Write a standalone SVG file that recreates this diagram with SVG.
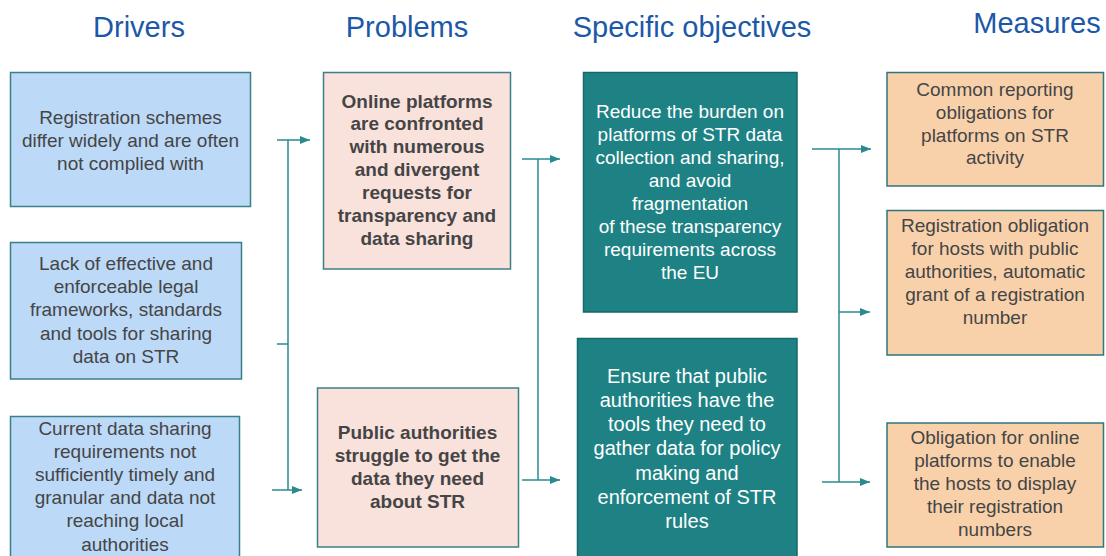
<svg xmlns="http://www.w3.org/2000/svg" width="1106" height="556" viewBox="0 0 1106 556">
<style>
.h{font-family:"Liberation Sans",Arial,sans-serif;font-size:29px;fill:#1c58a8;text-anchor:middle}
.t{font-family:"Liberation Sans",Arial,sans-serif;font-size:19px;fill:#454545;text-anchor:middle}
.b{font-weight:bold}
.w{fill:#ffffff}
.drv{fill:#bcd9f8;stroke:#3a8088;stroke-width:1.5}
.prb{fill:#f9e1dc;stroke:#3a8088;stroke-width:1.5}
.obj{fill:#1e8285;stroke:#16676a;stroke-width:1.5}
.msr{fill:#f8d1ab;stroke:#2f767c;stroke-width:1.5}
.c{stroke:#2a8a8e;stroke-width:1.5;fill:none}
</style>
<defs>
<marker id="ah" viewBox="0 0 10 10" refX="10" refY="5" markerWidth="7" markerHeight="7" markerUnits="userSpaceOnUse" orient="auto">
<path d="M0,0 L10,5 L0,10 z" fill="#2a8a8e"/>
</marker>
<marker id="a" viewBox="0 0 10 8" refX="10" refY="4" markerWidth="10" markerHeight="8" markerUnits="userSpaceOnUse" orient="auto">
<path d="M0,0 L10,4 L0,8 z" fill="#2a8a8e"/>
</marker>
</defs>
<rect width="1106" height="556" fill="#ffffff"/>

<g id="headings">
<text class="h" x="139" y="37">Drivers</text>
<text class="h" x="407" y="37">Problems</text>
<text class="h" x="692" y="37">Specific objectives</text>
<text class="h" x="1037" y="33">Measures</text>
</g>

<g id="connectors">
<path class="c" d="M288,140 V490 M277,344 H288"/>
<path class="c" d="M277,140 H310" marker-end="url(#a)"/>
<path class="c" d="M272,490 H302" marker-end="url(#a)"/>
<path class="c" d="M538,159 V480"/>
<path class="c" d="M522,159 H560" marker-end="url(#a)"/>
<path class="c" d="M522,480 H560" marker-end="url(#a)"/>
<path class="c" d="M839,149 V482"/>
<path class="c" d="M812,149 H871" marker-end="url(#a)"/>
<path class="c" d="M839,312 H870" marker-end="url(#a)"/>
<path class="c" d="M822,482 H870" marker-end="url(#a)"/>
</g>

<g id="driver1">
<rect class="drv" x="10.5" y="72.5" width="240" height="134"/>
<text class="t" x="130.5" y="123.5">Registration schemes</text>
<text class="t" x="130.5" y="146.5">differ widely and are often</text>
<text class="t" x="130.5" y="169.5">not complied with</text>
</g>
<g id="driver2">
<rect class="drv" x="10.5" y="242.5" width="231" height="136.5"/>
<text class="t" x="126" y="270">Lack of effective and</text>
<text class="t" x="126" y="293.2">enforceable legal</text>
<text class="t" x="126" y="316.4">frameworks, standards</text>
<text class="t" x="126" y="339.6">and tools for sharing</text>
<text class="t" x="126" y="362.8">data on STR</text>
</g>
<g id="driver3">
<rect class="drv" x="10.5" y="416.5" width="229" height="142"/>
<text class="t" x="125" y="435">Current data sharing</text>
<text class="t" x="125" y="458.1">requirements not</text>
<text class="t" x="125" y="481.2">sufficiently timely and</text>
<text class="t" x="125" y="504.3">granular and data not</text>
<text class="t" x="125" y="527.4">reaching local</text>
<text class="t" x="125" y="550.5">authorities</text>
</g>

<g id="problem1">
<rect class="prb" x="323.5" y="72.5" width="187" height="196.5"/>
<text class="t b" x="417" y="107.5">Online platforms</text>
<text class="t b" x="417" y="130.4">are confronted</text>
<text class="t b" x="417" y="153.3">with numerous</text>
<text class="t b" x="417" y="176.2">and divergent</text>
<text class="t b" x="417" y="199.1">requests for</text>
<text class="t b" x="417" y="222">transparency and</text>
<text class="t b" x="417" y="244.9">data sharing</text>
</g>
<g id="problem2">
<rect class="prb" x="317.5" y="388" width="201" height="159"/>
<text class="t b" x="417.5" y="439">Public authorities</text>
<text class="t b" x="417.5" y="462">struggle to get the</text>
<text class="t b" x="417.5" y="485">data they need</text>
<text class="t b" x="417.5" y="508">about STR</text>
</g>

<g id="objective1">
<rect class="obj" x="583.5" y="72.5" width="213.5" height="239.5"/>
<text class="t w" x="690" y="117.5">Reduce the burden on</text>
<text class="t w" x="690" y="140.5">platforms of STR data</text>
<text class="t w" x="690" y="163.5">collection and sharing,</text>
<text class="t w" x="690" y="186.5">and avoid</text>
<text class="t w" x="690" y="209.5">fragmentation</text>
<text class="t w" x="690" y="232.5">of these transparency</text>
<text class="t w" x="690" y="255.5">requirements across</text>
<text class="t w" x="690" y="278.5">the EU</text>
</g>
<g id="objective2">
<rect class="obj" x="577.5" y="338.5" width="219.5" height="220"/>
<text class="t w" x="687" y="382.5" style="font-size:20px">Ensure that public</text>
<text class="t w" x="687" y="406.8" style="font-size:20px">authorities have the</text>
<text class="t w" x="687" y="431.1" style="font-size:20px">tools they need to</text>
<text class="t w" x="687" y="455.4" style="font-size:20px">gather data for policy</text>
<text class="t w" x="687" y="479.7" style="font-size:20px">making and</text>
<text class="t w" x="687" y="504" style="font-size:20px">enforcement of STR</text>
<text class="t w" x="687" y="528.3" style="font-size:20px">rules</text>
</g>

<g id="measure1">
<rect class="msr" x="887" y="72.5" width="216.5" height="113.5"/>
<text class="t" x="995" y="96">Common reporting</text>
<text class="t" x="995" y="118.8">obligations for</text>
<text class="t" x="995" y="141.6">platforms on STR</text>
<text class="t" x="995" y="164.4">activity</text>
</g>
<g id="measure2">
<rect class="msr" x="887" y="210.5" width="216.5" height="144.5"/>
<text class="t" x="995" y="232.3">Registration obligation</text>
<text class="t" x="995" y="255.3">for hosts with public</text>
<text class="t" x="995" y="278.3">authorities, automatic</text>
<text class="t" x="995" y="301.3">grant of a registration</text>
<text class="t" x="995" y="324.3">number</text>
</g>
<g id="measure3">
<rect class="msr" x="887" y="423" width="216.5" height="124"/>
<text class="t" x="995" y="444">Obligation for online</text>
<text class="t" x="995" y="467">platforms to enable</text>
<text class="t" x="995" y="490">the hosts to display</text>
<text class="t" x="995" y="513">their registration</text>
<text class="t" x="995" y="536">numbers</text>
</g>
</svg>
